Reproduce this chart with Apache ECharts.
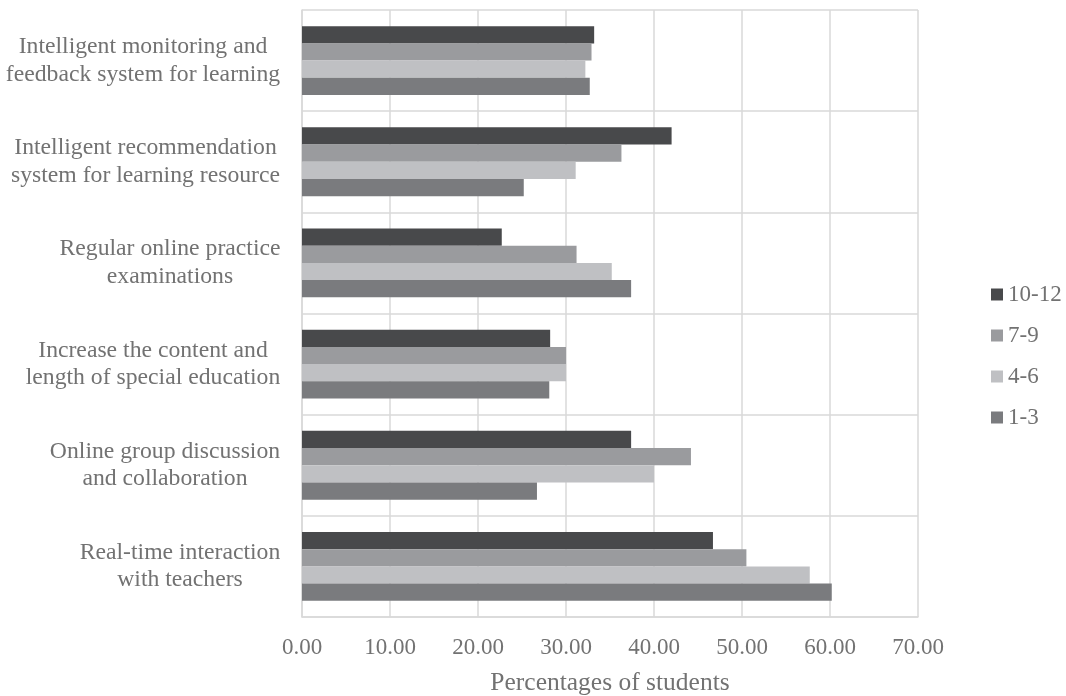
<!DOCTYPE html>
<html>
<head>
<meta charset="utf-8">
<script src="https://cdn.jsdelivr.net/npm/echarts@6/dist/echarts.min.js"></script>
<style>
  html, body { margin: 0; padding: 0; background: #ffffff; }
  #chart { width: 1066px; height: 696px; }
</style>
</head>
<body>
<div id="chart"></div>
<script>
// Measures listed bottom to top, as they appear on the category axis
const categories = [
  'Real-time interaction\nwith teachers',
  'Online group discussion\nand collaboration',
  'Increase the content and\nlength of special education',
  'Regular online practice\nexaminations',
  'Intelligent recommendation\nsystem for learning resource',
  'Intelligent monitoring and\nfeedback system for learning'
];

// Percentages of students per grade band
const grades1to3   = [60.2, 26.7, 28.1, 37.4, 25.2, 32.7];
const grades4to6   = [57.7, 40.0, 30.0, 35.2, 31.1, 32.2];
const grades7to9   = [50.5, 44.2, 30.0, 31.2, 36.3, 32.9];
const grades10to12 = [46.7, 37.4, 28.2, 22.7, 42.0, 33.2];

const legendOrder = ['10-12', '7-9', '4-6', '1-3'];

const textColor = '#727272';
const gridColor = '#d9d9d9';
const fontFamily = '"Liberation Serif", "Times New Roman", serif';
const catFontSize = 23.7;

// Category labels are centred line by line inside a block that is right-aligned
// against the axis; each block gets a rich style as wide as its longest line.
const measureCtx = document.createElement('canvas').getContext('2d');
measureCtx.font = catFontSize + 'px ' + fontFamily;
const catRich = {};
categories.forEach(function (label, i) {
  const w = Math.max.apply(null, label.split('\n').map(function (line) {
    return measureCtx.measureText(line).width;
  }));
  catRich['c' + i] = {
    width: Math.ceil(w) + 1,
    align: 'center',
    fontFamily: fontFamily,
    fontSize: catFontSize,
    lineHeight: 27.5,
    color: textColor
  };
});

const chart = echarts.init(document.getElementById('chart'), null, { renderer: 'canvas' });

function barSeries(name, data, color) {
  return {
    name: name,
    type: 'bar',
    data: data,
    barGap: '0%',
    barCategoryGap: '32%',
    itemStyle: { color: color },
    emphasis: { disabled: true }
  };
}

chart.setOption({
  animation: false,
  backgroundColor: '#ffffff',
  textStyle: { fontFamily: fontFamily, color: textColor },
  grid: {
    left: 302, right: 148, top: 10, bottom: 79,
    containLabel: false,
    outerBoundsMode: 'none'
  },
  legend: {
    orient: 'vertical',
    left: 986,
    top: 278,
    itemWidth: 12,
    itemHeight: 12,
    itemGap: 18,
    icon: 'rect',
    data: legendOrder,
    textStyle: { fontFamily: fontFamily, fontSize: 23, color: textColor }
  },
  xAxis: {
    type: 'value',
    min: 0,
    max: 70,
    interval: 10,
    name: 'Percentages of students',
    nameLocation: 'middle',
    nameGap: 53,
    nameTextStyle: { fontFamily: fontFamily, fontSize: 25.5, color: textColor },
    axisLine: { show: true, lineStyle: { color: gridColor, width: 1.5 } },
    axisTick: { show: false },
    axisLabel: {
      margin: 19,
      fontFamily: fontFamily,
      fontSize: 23,
      color: textColor,
      formatter: function (v) { return v.toFixed(2); }
    },
    splitLine: { show: true, lineStyle: { color: gridColor, width: 1.5 } }
  },
  yAxis: {
    type: 'category',
    data: categories,
    axisLine: { show: true, lineStyle: { color: gridColor, width: 1.5 } },
    axisTick: { show: false },
    axisLabel: {
      margin: 21,
      align: 'right',
      formatter: function (value, index) {
        return value.split('\n').map(function (line) {
          return '{c' + index + '|' + line + '}';
        }).join('\n');
      },
      rich: catRich
    },
    splitLine: { show: true, lineStyle: { color: gridColor, width: 1.5 } }
  },
  series: [
    barSeries('10-12', grades10to12, '#48494b'),
    barSeries('7-9', grades7to9, '#9a9b9e'),
    barSeries('4-6', grades4to6, '#bfc0c3'),
    barSeries('1-3', grades1to3, '#7a7b7e')
  ]
});
</script>
</body>
</html>
